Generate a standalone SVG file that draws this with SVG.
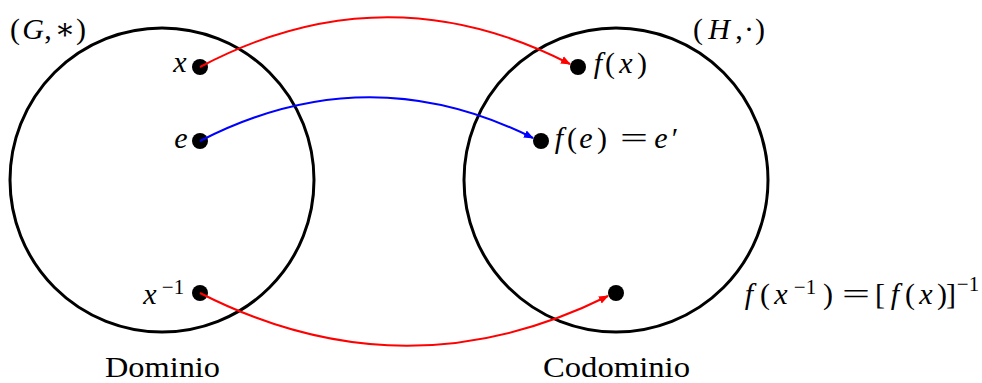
<svg xmlns="http://www.w3.org/2000/svg" width="982" height="383" viewBox="0 0 982 383">
<style>
.set{fill:none;stroke:#000;stroke-width:3}
.dot{fill:#000}
.t{font-family:"Liberation Serif","DejaVu Serif",serif;font-size:30px;fill:#000}
.mid{text-anchor:middle}
.m{font-style:italic}
.s{font-size:21px}
.c{fill:none;stroke-width:2}
</style>
<defs>
<marker id="ar" viewBox="0 0 10 10" refX="9" refY="5" markerWidth="5" markerHeight="5" orient="auto" markerUnits="strokeWidth"><path d="M0,1 L10,5 L0,9 Z" fill="#f00"/></marker>
<marker id="ab" viewBox="0 0 10 10" refX="9" refY="5" markerWidth="5" markerHeight="5" orient="auto" markerUnits="strokeWidth"><path d="M0,1 L10,5 L0,9 Z" fill="#00f"/></marker>
</defs>
<g id="dominio">
<circle class="set" cx="162" cy="180" r="152"/>
<text class="t mid" y="39"><tspan x="15">(</tspan><tspan class="m" x="33">G</tspan><tspan x="48">,</tspan><tspan x="65">∗</tspan><tspan x="81">)</tspan></text>
<text class="t" x="105" y="377" textLength="115" lengthAdjust="spacingAndGlyphs">Dominio</text>
</g>
<g id="codominio">
<circle class="set" cx="616" cy="180" r="152"/>
<text class="t mid" y="39"><tspan x="698">(</tspan><tspan class="m" x="719">H</tspan><tspan x="739">,</tspan><tspan x="749">·</tspan><tspan x="760">)</tspan></text>
<text class="t" x="543" y="377" textLength="147" lengthAdjust="spacingAndGlyphs">Codominio</text>
</g>
<g id="x">
<circle class="dot" cx="200" cy="67" r="8"/>
<text class="t m mid" x="180" y="72">x</text>
</g>
<g id="e">
<circle class="dot" cx="200" cy="141" r="8"/>
<text class="t m mid" x="181" y="148">e</text>
</g>
<g id="xinv">
<circle class="dot" cx="200" cy="293" r="8"/>
<text class="t mid" y="304"><tspan class="m" x="150">x</tspan><tspan class="s" x="173" y="294">−1</tspan></text>
</g>
<g id="fx">
<circle class="dot" cx="578" cy="67" r="8"/>
<text class="t mid" y="73"><tspan class="m" x="598">f</tspan><tspan x="610">(</tspan><tspan class="m" x="626">x</tspan><tspan x="642">)</tspan></text>
</g>
<g id="fe">
<circle class="dot" cx="541" cy="141" r="8"/>
<text class="t mid" y="148"><tspan class="m" x="559">f</tspan><tspan x="572">(</tspan><tspan class="m" x="586">e</tspan><tspan x="602">)</tspan><tspan class="m" x="661">e</tspan><tspan x="675">′</tspan></text>
<text class="t" x="620" y="148" textLength="28" lengthAdjust="spacingAndGlyphs">=</text>
</g>
<g id="fxinv">
<circle class="dot" cx="616" cy="293" r="8"/>
<text class="t mid" y="304"><tspan class="m" x="749">f</tspan><tspan x="765">(</tspan><tspan class="m" x="781">x</tspan><tspan class="s" x="805" y="294">−1</tspan><tspan x="828" y="304">)</tspan><tspan x="880">[</tspan><tspan class="m" x="895">f</tspan><tspan x="910">(</tspan><tspan class="m" x="926">x</tspan><tspan x="942">)</tspan><tspan x="951">]</tspan><tspan class="s" x="968" y="291">−1</tspan></text>
<text class="t" x="842" y="304" textLength="28" lengthAdjust="spacingAndGlyphs">=</text>
</g>
<g id="connectors">
<path class="c" stroke="#f00" d="M200,67 Q385,-31 570,64" marker-end="url(#ar)"/>
<path class="c" stroke="#00f" d="M200,141 Q367,55 533,138" marker-end="url(#ab)"/>
<path class="c" stroke="#f00" d="M200,293 Q404,397 608,296" marker-end="url(#ar)"/>
</g>
</svg>
